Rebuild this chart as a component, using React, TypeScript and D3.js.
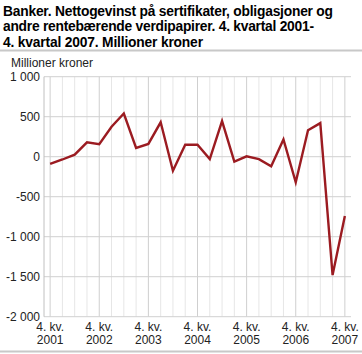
import React from "react";
import * as d3 from "d3";

const titleLines = [
  "Banker. Nettogevinst på sertifikater, obligasjoner og",
  "andre rentebærende verdipapirer. 4. kvartal 2001-",
  "4. kvartal 2007. Millioner kroner",
];
const titleWidths = [330, 311, 200];
const yAxisTitle = "Millioner kroner";
const quarters = [
  "2001K4",
  "2002K1", "2002K2", "2002K3", "2002K4",
  "2003K1", "2003K2", "2003K3", "2003K4",
  "2004K1", "2004K2", "2004K3", "2004K4",
  "2005K1", "2005K2", "2005K3", "2005K4",
  "2006K1", "2006K2", "2006K3", "2006K4",
  "2007K1", "2007K2", "2007K3", "2007K4",
];
const values = [
  -90, -35, 25, 180, 155, 375, 540, 110, 160, 430, -175, 150, 150,
  -30, 445, -60, 5, -30, -120, 215, -320, 330, 420, -1480, -740,
];
const yTicks = [1000, 500, 0, -500, -1000, -1500, -2000];
const xLabelYears = ["2001", "2002", "2003", "2004", "2005", "2006", "2007"];

const fmt = (v: number) => {
  const s = Math.abs(v).toString().replace(/\B(?=(\d{3})+(?!\d))/g, "\u00a0");
  return (v < 0 ? "-" : "") + s;
};

export default function App() {
  const W = 362, H = 354;
  const left = 44, right = 351, top = 76.7, bottom = 316.7;
  const x = d3.scaleBand<string>().domain(quarters).range([left, right]);
  const xc = (q: string) => (x(q) as number) + x.bandwidth() / 2;
  const y = d3.scaleLinear().domain([-2000, 1000]).range([bottom, top]);
  const line = d3
    .line<number>()
    .x((_, i) => xc(quarters[i]))
    .y((d) => y(d));
  const font = "'Liberation Sans', Arial, sans-serif";
  return (
    <svg
      width={W}
      height={H}
      style={{ position: "absolute", left: 0, top: 0, background: "#fff" }}
      fontFamily={font}
    >
      {titleLines.map((t, i) => (
        <text
          key={i}
          x={3}
          y={15.5 + i * 15.7}
          fontSize={13.8}
          fontWeight="bold"
          fill="#000"
          textLength={titleWidths[i]}
          lengthAdjust="spacing"
        >
          {t}
        </text>
      ))}
      <line x1={0} x2={W} y1={50.5} y2={50.5} stroke="#c8c8c8" strokeWidth={2} />
      <text x={11} y={67} fontSize={12} fill="#222">
        {yAxisTitle}
      </text>
      {quarters.map((q) => (
        <line
          key={q}
          x1={xc(q)}
          x2={xc(q)}
          y1={top}
          y2={bottom}
          stroke={q.endsWith("K4") ? "#cfcfcf" : "#e6e6e6"}
          strokeWidth={1}
        />
      ))}
      {yTicks.map((t) => (
        <g key={t}>
          <line x1={left} x2={right} y1={y(t)} y2={y(t)} stroke="#d0d0d0" strokeWidth={1} />
          <text x={40} y={y(t) + 4.5} fontSize={12} textAnchor="end" fill="#222">
            {fmt(t)}
          </text>
        </g>
      ))}
      <line x1={left} x2={left} y1={top} y2={bottom} stroke="#c0c0c0" strokeWidth={1} />
      {quarters
        .filter((q) => q.endsWith("K4"))
        .map((q, i) => (
          <text key={q} x={xc(q)} fontSize={12} textAnchor="middle" fill="#222">
            <tspan x={xc(q)} y={331}>4. kv.</tspan>
            <tspan x={xc(q)} y={344}>{xLabelYears[i]}</tspan>
          </text>
        ))}
      <path d={line(values) as string} fill="none" stroke="#9b1b21" strokeWidth={2.4} strokeLinejoin="miter" />
      <line x1={0} x2={W} y1={351.5} y2={351.5} stroke="#c8c8c8" strokeWidth={2} />
    </svg>
  );
}
